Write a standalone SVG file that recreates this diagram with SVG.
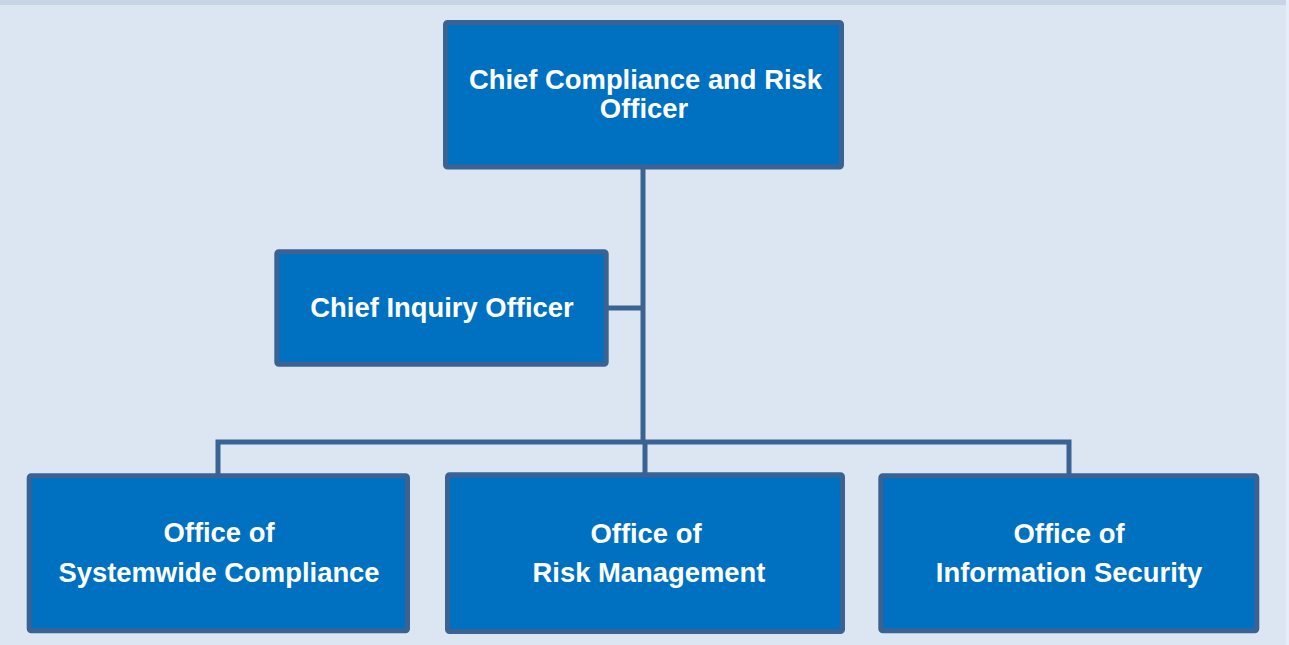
<svg xmlns="http://www.w3.org/2000/svg" width="1289" height="645" viewBox="0 0 1289 645">
<style>
.box{fill:#0070c0;stroke:#3a6394;stroke-width:5}
.lbl{font-family:"Liberation Sans",Arial,sans-serif;font-weight:bold;font-size:27.4px;fill:#ffffff;text-anchor:middle}
.conn{fill:none;stroke:#3a6394;stroke-width:5}
</style>
<rect x="0" y="0" width="1289" height="645" fill="#dce6f2"/>
<rect x="0" y="0" width="1289" height="5" fill="#c6d4e5"/>
<rect x="1286" y="0" width="3" height="645" fill="#e6edf6"/>
<g id="connectors">
<path class="conn" d="M643 169 V442"/>
<path class="conn" d="M608 308 H643"/>
<path class="conn" d="M218 474 V442 H1069 V474"/>
<path class="conn" d="M645 442 V473"/>
</g>
<g id="node-ccro">
<rect class="box" x="445.5" y="22.5" width="396" height="144.5" rx="2"/>
<text class="lbl" x="645.5" y="89">Chief Compliance and Risk</text>
<text class="lbl" x="644" y="118">Officer</text>
</g>
<g id="node-cio">
<rect class="box" x="276.8" y="251.8" width="329.4" height="112.4" rx="2"/>
<text class="lbl" x="442" y="317">Chief Inquiry Officer</text>
</g>
<g id="node-osc">
<rect class="box" x="29.2" y="475.8" width="378.3" height="155" rx="2"/>
<text class="lbl" x="219" y="542">Office of</text>
<text class="lbl" x="219" y="581.5">Systemwide Compliance</text>
</g>
<g id="node-orm">
<rect class="box" x="447.5" y="474.8" width="395" height="156.7" rx="2"/>
<text class="lbl" x="646" y="542.5">Office of</text>
<text class="lbl" x="649" y="581.5">Risk Management</text>
</g>
<g id="node-ois">
<rect class="box" x="880.8" y="475.8" width="376" height="155" rx="2"/>
<text class="lbl" x="1069" y="542.5">Office of</text>
<text class="lbl" x="1069" y="581.5">Information Security</text>
</g>
</svg>
